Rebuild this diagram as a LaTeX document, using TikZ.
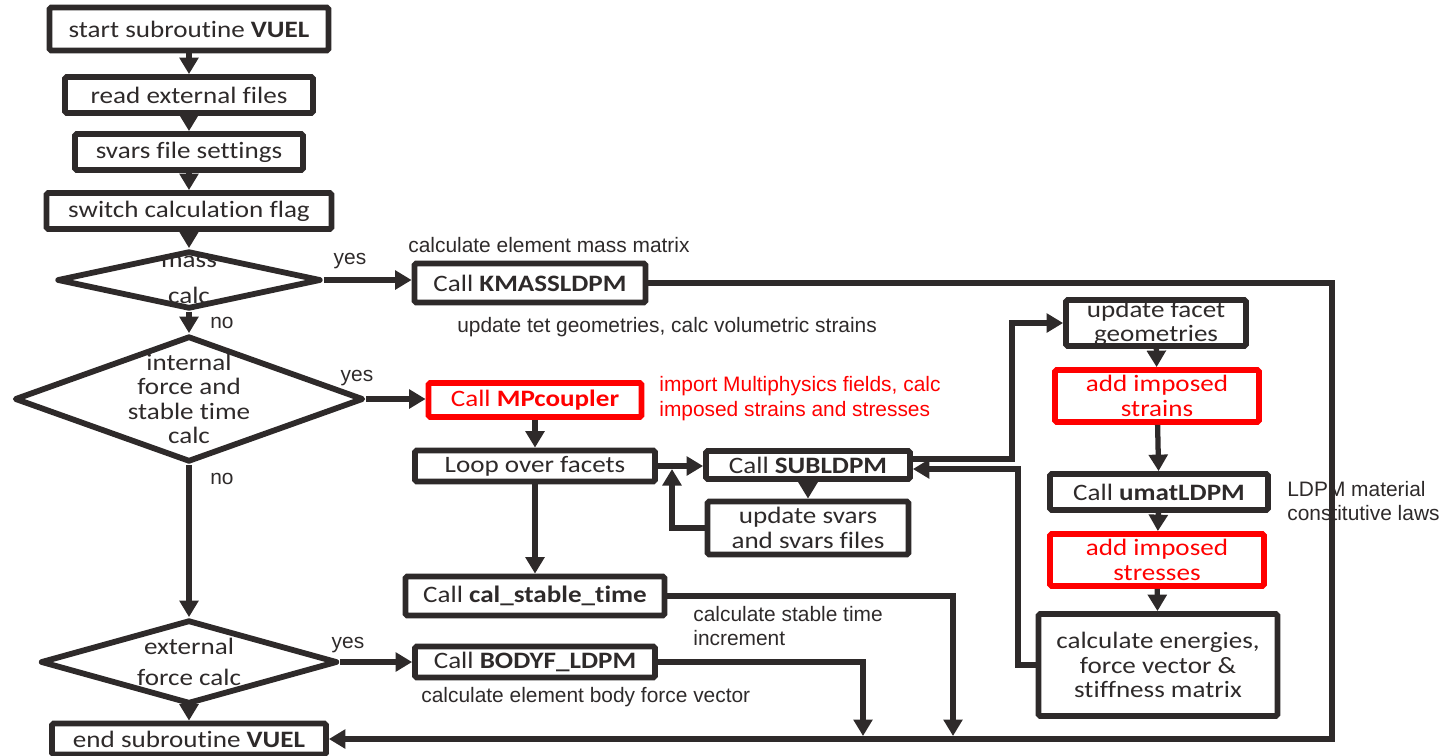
\documentclass[tikz,border=0pt]{standalone}
\usepackage{fontspec}
\setmainfont{Carlito}[FakeStretch=1.15, Ligatures=NoCommon]
\newfontfamily\notefont{Liberation Sans}
\usetikzlibrary{arrows.meta,shapes.geometric,calc}
\definecolor{ink}{RGB}{46,42,42}
\definecolor{alert}{RGB}{255,0,0}
\tikzset{
    >={Triangle[length=3.3mm,width=3.7mm]},
    flow/.style={rectangle, draw=ink, line width=3.3pt, rounded corners=1pt, text=ink, align=center, inner sep=0pt, font=\fontsize{13.4}{13.8}\selectfont},
    redflow/.style={flow, draw=alert, text=alert},
    decision/.style={diamond, draw=ink, line width=3.3pt, line join=round, inner sep=0pt},
    dtext/.style={text=ink, align=center, inner sep=0pt, font=\fontsize{13.4}{13.8}\selectfont},
    note/.style={anchor=west, align=left, text=ink, inner sep=0pt, font=\notefont\fontsize{11.9}{14.2}\selectfont},
    rednote/.style={note, text=alert},
    lbl/.style={text=ink, inner sep=0pt, font=\notefont\fontsize{11.9}{14.2}\selectfont},
    link/.style={draw=ink, line width=3pt}
}
\begin{document}
\begin{tikzpicture}[x=0.02cm, y=-0.02cm]
    \useasboundingbox (0,0) rectangle (1453,755);
    % main column
    \node[flow, minimum width=5.58cm, minimum height=0.86cm] (start) at (189,29) {start subroutine \textbf{VUEL}};
    \node[flow, minimum width=4.96cm, minimum height=0.72cm] (read) at (189,95) {read external files};
    \node[flow, minimum width=4.56cm, minimum height=0.72cm] (svars) at (189,152) {svars file settings};
    \node[flow, minimum width=5.7cm, minimum height=0.72cm] (switch) at (189,211) {switch calculation flag};
    \node[decision, minimum width=5.28cm, minimum height=1.16cm,
          label={[dtext, font=\fontsize{13.4}{20.5}\selectfont]center:{mass\\calc}}] (mass) at (189,280) {};
    \node[decision, minimum width=6.98cm, minimum height=2.52cm,
          label={[dtext]center:{internal\\force and\\stable time\\calc}}] (internal) at (189,399) {};
    \node[decision, minimum width=5.94cm, minimum height=1.68cm,
          label={[dtext, font=\fontsize{13.4}{17.6}\selectfont]center:{external\\force calc}}] (external) at (189,662) {};
    \node[flow, minimum width=5.48cm, minimum height=0.62cm] (endsub) at (189,739) {end subroutine \textbf{VUEL}};
    % calls
    \node[flow, minimum width=4.62cm, minimum height=0.78cm] (kmass) at (530,283) {Call \textbf{KMASSLDPM}};
    \node[redflow, minimum width=4.26cm, minimum height=0.68cm] (mpcoupler) at (535,400) {Call \textbf{MPcoupler}};
    \node[flow, minimum width=4.8cm, minimum height=0.62cm] (loop) at (535,466) {Loop over facets};
    \node[flow, minimum width=4.08cm, minimum height=0.56cm] (subldpm) at (808,465) {Call \textbf{SUBLDPM}};
    \node[flow, minimum width=4.02cm, minimum height=1.06cm] (upsvars) at (808,528) {update svars\\and svars files};
    \node[flow, minimum width=5.18cm, minimum height=0.78cm] (stable) at (535,596) {Call \textbf{cal\_stable\_time}};
    \node[flow, minimum width=4.8cm, minimum height=0.62cm] (bodyf) at (535,662) {Call \textbf{BODYF\_LDPM}};
    % facet loop
    \node[flow, minimum width=3.6cm, minimum height=0.92cm] (facet) at (1156,323) {update facet\\geometries};
    \node[redflow, minimum width=4.08cm, minimum height=1.04cm] (strains) at (1157,396) {add imposed\\strains};
    \node[flow, minimum width=4.36cm, minimum height=0.72cm] (umat) at (1159,492) {Call \textbf{umatLDPM}};
    \node[redflow, minimum width=4.28cm, minimum height=1.04cm] (stresses) at (1157,560) {add imposed\\stresses};
    \node[flow, minimum width=4.78cm, minimum height=2.04cm] (energies) at (1158,665) {calculate energies,\\force vector \&\\stiffness matrix};
    % notes
    \node[note] (massnote) at (408,245) {calculate element mass matrix};
    \node[note] (tetnote) at (457,327) {update tet geometries, calc volumetric strains};
    \node[rednote] (mpnote) at (659,399) {import Multiphysics fields, calc\\imposed strains and stresses};
    \node[note] (stablenote) at (693,626) {calculate stable time\\increment};
    \node[note] (bodynote) at (421,697) {calculate element body force vector};
    \node[note] (umatnote) at (1287,501) {LDPM material\\constitutive laws};
    \node[lbl] (yes1) at (350,261) {yes};
    \node[lbl] (no1) at (222,323) {no};
    \node[lbl] (yes2) at (357,378) {yes};
    \node[lbl] (no2) at (222,479) {no};
    \node[lbl] (yes3) at (348,645) {yes};
    % junctions
    \coordinate (outer) at (1332,500);
    \coordinate (stabledrop) at (953,736);
    \coordinate (bodydrop) at (863,736);
    \coordinate (loopjoin) at (672,469);
    \coordinate (upx) at (1012,400);
    \coordinate (downx) at (1018,560);
    % connectors
    \draw[link, ->] (start) -- (read);
    \draw[link, ->] (read) -- (svars);
    \draw[link, ->] (svars) -- (switch);
    \draw[link, ->] (switch) -- (mass);
    \draw[link, ->] (mass.east) -- (mass.east -| kmass.west);
    \draw[link, ->] (mass) -- (internal);
    \draw[link, ->] (internal.east) -- (internal.east -| mpcoupler.west);
    \draw[link, ->] (internal) -- (external);
    \draw[link, ->] (external.east) -- (external.east -| bodyf.west);
    \draw[link, ->] (external) -- (endsub);
    \draw[link, ->] (kmass.east) -| (outer) |- (endsub.east);
    \draw[link, ->] (mpcoupler) -- (loop);
    \draw[link, ->] (loop.east) -- (loop.east -| subldpm.west);
    \draw[link, ->] (subldpm) -- (upsvars);
    \draw[link, ->] (upsvars.west) -| (loopjoin);
    \draw[link, ->] (loop) -- (loop.south |- stable.north);
    \draw[link, ->] (stable.east) -| (stabledrop);
    \draw[link, ->] (bodyf.east) -| (bodydrop);
    \draw[link, ->] ([yshift=1.2mm]subldpm.east) -| (upx) |- (facet.west);
    \draw[link, ->] (facet) -- (strains);
    \draw[link, ->] (strains) -- (umat);
    \draw[link, ->] (umat) -- (stresses);
    \draw[link, ->] (stresses) -- (energies);
    \draw[link, ->] (energies.west) -| (downx) |- ([yshift=-0.8mm]subldpm.east);
\end{tikzpicture}
\end{document}
